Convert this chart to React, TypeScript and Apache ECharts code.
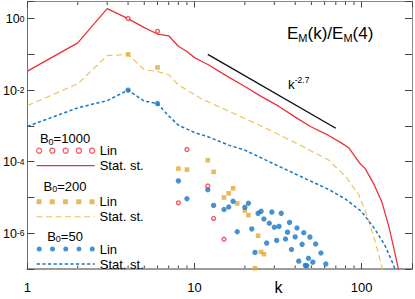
import React, { useEffect, useRef } from 'react';
import * as echarts from 'echarts';

const FONT = '"Liberation Sans", Arial, Helvetica, sans-serif';

// ---- data ----
const statK1000 = [1, 2, 3, 4, 5, 6, 7, 8, 9, 10, 11, 12, 16, 20, 25, 32, 40, 50, 63, 75, 84, 97, 105, 118, 132, 145, 155, 165, 170];
const statE1000 = [0.034, 0.21, 1.9, 1.0, 0.56, 0.37, 0.33, 0.168, 0.12, 0.081, 0.064, 0.052, 0.023, 0.0126, 0.0067, 0.0035, 0.00176, 9.3e-4, 5.5e-4, 3.4e-4, 2.4e-4, 9.2e-5, 6.4e-5, 2.4e-5, 7.5e-6, 1.6e-6, 4.2e-7, 1.1e-7, 5e-8];

const statK200 = [1, 2, 3, 4, 5, 6, 7, 8, 10, 11, 16, 20, 25, 32, 47, 63, 80, 96, 108, 119, 132, 137];
const statE200 = [0.0037, 0.015, 0.092, 0.1, 0.037, 0.033, 0.027, 0.014, 0.0075, 0.0057, 0.0026, 0.0016, 0.001, 5.7e-4, 2.3e-4, 1.14e-4, 3.9e-5, 1.2e-5, 3e-6, 7e-7, 1.2e-7, 5e-8];

const statK50 = [1, 2, 3, 4, 5, 6, 7, 8, 10, 12, 16, 20, 32, 47, 63, 80, 100, 120, 138, 155, 162];
const statE50 = [9.7e-4, 0.0032, 0.0051, 0.01, 0.0049, 0.0042, 0.0019, 0.00105, 6.5e-4, 5e-4, 2.9e-4, 2.1e-4, 7.4e-5, 3.2e-5, 1.7e-5, 9e-6, 4e-6, 1.3e-6, 4.5e-7, 1.3e-7, 7e-8];

const linK1000 = [4, 6, 8, 9, 12, 13, 15];
const linE1000 = [1.0, 0.44, 7.1e-6, 2.2e-4, 2.1e-5, 2.6e-6, 6.8e-7];

const linK200 = [4, 6, 8, 9, 12, 13, 15, 16, 17, 18, 20, 21, 23, 24, 25, 26];
const linE200 = [0.1, 0.043, 6.4e-5, 6.0e-5, 1.1e-4, 5.2e-5, 1.0e-5, 1.3e-5, 1.8e-5, 6.8e-6, 4.3e-6, 3.2e-6, 1.05e-7, 8.5e-7, 3.0e-7, 2.6e-7];

const linK50 = [4, 6, 8, 9, 12, 13, 15, 16, 17, 18, 20, 21, 22, 23, 24, 25, 26, 27, 28, 29, 30, 31, 32, 33, 35, 36, 37, 38, 40, 41, 42, 44, 45, 46, 47, 48, 49, 51, 53, 57, 61];
const linE50 = [0.01, 0.0042, 2.9e-5, 9.2e-6, 1.65e-5, 6.0e-6, 4.6e-6, 5.4e-6, 7.8e-6, 1.1e-6, 5.3e-6, 6.9e-6, 1.32e-6, 2.9e-7, 3.6e-6, 4.1e-6, 2.5e-6, 5.3e-7, 1.9e-6, 3.9e-6, 1.47e-6, 6.3e-7, 1.55e-6, 3.6e-6, 6.9e-7, 1.07e-6, 2.0e-6, 3.5e-7, 7.9e-7, 1.4e-6, 1.66e-7, 4.9e-7, 1.03e-6, 1.26e-7, 1.23e-7, 2.0e-7, 7.8e-7, 1.55e-7, 5.0e-7, 2.8e-7, 1.38e-7];

const guideK = [12, 70];
const guideE = [0.1, 8.6e-4];

const xLabelValues = [1, 10, 100];
const yLabelExps = [0, -2, -4, -6];
const xMinorTicks = [2, 3, 4, 5, 6, 7, 8, 9, 20, 30, 40, 50, 60, 70, 80, 90];
const X_MIN = 1;
const X_MAX = 200;
const Y_MIN = 1e-7;
const Y_MAX = 3;

const groups = ['B0=1000', 'B0=200', 'B0=50'];
const groupLabels = ['1000', '200', '50'];

// ---- styles ----
const RED = '#ec3039';
const ORANGE_MARK = '#e2a836';
const ORANGE_LINE = '#efbd57';
const BLUE = '#1877c4';

const zip = (k: number[], e: number[]) => k.map((v, i) => [v, e[i]]);

const iconCenters = [2.5, 15.75, 29, 42.25, 55.5];
const circlesIcon =
  'path://' +
  iconCenters
    .map((c) => `M${c - 2.5} 2.5A2.5 2.5 0 1 0 ${c + 2.5} 2.5A2.5 2.5 0 1 0 ${c - 2.5} 2.5Z`)
    .join(' ');
const squaresIcon =
  'path://' + iconCenters.map((c) => `M${c - 2.5} 0h5v5h-5Z`).join(' ');

const linName = (g: string) => `Lin (${g})`;
const statName = (g: string) => `Stat. st. (${g})`;

export default function App() {
  const ref = useRef<HTMLDivElement>(null);

  useEffect(() => {
    const chart = echarts.init(ref.current!, undefined, { renderer: 'svg' });

    const legendCommon = {
      orient: 'vertical' as const,
      left: 36,
      padding: 0,
      itemGap: 0,
      itemWidth: 58,
      itemHeight: 5,
      selectedMode: false,
      formatter: (name: string) => (name.startsWith('Lin') ? 'Lin' : 'Stat. st.'),
      textStyle: { fontFamily: FONT, fontSize: 13, color: '#000', lineHeight: 15 },
    };

    const axisTickStyle = { color: '#444', width: 1 };
    const hiddenSymbol = { opacity: 0 };

    const option: any = {
      animation: false,
      grid: { left: 26, right: 2.5, top: 1.5, bottom: 30, containLabel: false },
      xAxis: [
        {
          type: 'log',
          logBase: 10,
          min: X_MIN,
          max: X_MAX,
          position: 'bottom',
          axisLine: { show: true, onZero: false, lineStyle: { color: '#9c9c9c', width: 2 } },
          axisTick: { show: true, inside: true, length: 6, lineStyle: axisTickStyle },
          splitLine: { show: false },
          axisLabel: {
            margin: 12,
            fontFamily: FONT,
            fontSize: 13,
            color: '#000',
            formatter: (v: number) => {
              const r = Math.round(v);
              return xLabelValues.includes(r) && Math.abs(v - r) < 1e-6 ? String(r) : '';
            },
          },
        },
        {
          type: 'log',
          logBase: 10,
          min: X_MIN,
          max: X_MAX,
          position: 'top',
          axisLine: { show: true, onZero: false, lineStyle: { color: '#8a8a8a', width: 1 } },
          axisTick: { show: true, inside: true, length: 6, lineStyle: axisTickStyle },
          splitLine: { show: false },
          axisLabel: { show: false },
        },
      ],
      yAxis: [
        {
          type: 'log',
          logBase: 10,
          min: Y_MIN,
          max: Y_MAX,
          position: 'left',
          axisLine: { show: true, onZero: false, lineStyle: { color: '#6e6e6e', width: 1 } },
          axisTick: { show: true, inside: true, length: 7, lineStyle: axisTickStyle },
          splitLine: { show: false },
          axisLabel: {
            margin: 3,
            fontFamily: FONT,
            color: '#000',
            formatter: (v: number) => {
              const l = Math.log10(v);
              const e = Math.round(l);
              if (Math.abs(l - e) > 1e-6 || !yLabelExps.includes(e)) return '';
              return `{b|10}{s|${e}}`;
            },
            rich: {
              b: { fontFamily: FONT, fontSize: 12.5, lineHeight: 14, padding: [5, 0, 0, 0], verticalAlign: 'bottom', color: '#000' },
              s: { fontFamily: FONT, fontSize: 8.5, lineHeight: 10, padding: [2.5, 0, 0, 0], verticalAlign: 'top', color: '#000' },
            },
          },
        },
        {
          type: 'log',
          logBase: 10,
          min: Y_MIN,
          max: Y_MAX,
          position: 'right',
          axisLine: { show: true, onZero: false, lineStyle: { color: '#8a8a8a', width: 1 } },
          axisTick: { show: true, inside: true, length: 7, lineStyle: axisTickStyle },
          splitLine: { show: false },
          axisLabel: { show: false },
        },
      ],
      legend: [
        {
          ...legendCommon,
          top: 143.2,
          data: [
            { name: linName(groups[0]), icon: circlesIcon, itemStyle: { borderWidth: 1.2 } },
            { name: statName(groups[0]), itemStyle: hiddenSymbol },
          ],
          lineStyle: { width: 1.3 },
        },
        {
          ...legendCommon,
          top: 194.2,
          data: [
            { name: linName(groups[1]), icon: squaresIcon, itemStyle: { borderWidth: 0 } },
            { name: statName(groups[1]), itemStyle: hiddenSymbol },
          ],
          lineStyle: { width: 1.1 },
        },
        {
          ...legendCommon,
          top: 241.5,
          data: [
            { name: linName(groups[2]), icon: circlesIcon, itemStyle: { borderWidth: 0 } },
            { name: statName(groups[2]), itemStyle: hiddenSymbol },
          ],
          lineStyle: { width: 1.5 },
        },
      ],
      series: [
        {
          name: statName(groups[0]),
          type: 'line',
          data: zip(statK1000, statE1000),
          symbol: 'none',
          showSymbol: false,
          clip: true,
          z: 2,
          itemStyle: { color: RED },
          lineStyle: { color: RED, width: 1.3, type: 'solid' },
        },
        {
          name: statName(groups[1]),
          type: 'line',
          data: zip(statK200, statE200),
          symbol: 'none',
          showSymbol: false,
          clip: true,
          z: 2,
          itemStyle: { color: ORANGE_LINE },
          lineStyle: { color: ORANGE_LINE, width: 1.1, type: [6, 3.5] },
        },
        {
          name: statName(groups[2]),
          type: 'line',
          data: zip(statK50, statE50),
          symbol: 'none',
          showSymbol: false,
          clip: true,
          z: 2,
          itemStyle: { color: BLUE },
          lineStyle: { color: BLUE, width: 1.5, type: [3.2, 2.4] },
        },
        {
          name: 'k^-2.7',
          type: 'line',
          data: zip(guideK, guideE),
          symbol: 'none',
          showSymbol: false,
          z: 2,
          itemStyle: { color: '#111' },
          lineStyle: { color: '#111', width: 1.4 },
        },
        {
          name: linName(groups[0]),
          type: 'scatter',
          data: zip(linK1000, linE1000),
          symbol: 'circle',
          symbolSize: 3.8,
          clip: true,
          z: 4,
          itemStyle: { color: '#fff', borderColor: RED, borderWidth: 1.4 },
        },
        {
          name: linName(groups[1]),
          type: 'scatter',
          data: zip(linK200, linE200),
          symbol: 'rect',
          symbolSize: 4.6,
          clip: true,
          z: 3,
          itemStyle: { color: ORANGE_MARK },
        },
        {
          name: linName(groups[2]),
          type: 'scatter',
          data: zip(linK50, linE50),
          symbol: 'circle',
          symbolSize: 5.4,
          clip: true,
          z: 3,
          itemStyle: { color: BLUE },
        },
      ],
    };

    chart.setOption(option);

    const yTop = chart.convertToPixel({ yAxisIndex: 0 }, Y_MAX) as number;
    const yBottom = chart.convertToPixel({ yAxisIndex: 0 }, Y_MIN) as number;
    const minorLen = 3.5;
    const tickEls: any[] = [];
    xMinorTicks.forEach((v) => {
      const x = chart.convertToPixel({ xAxisIndex: 0 }, v) as number;
      tickEls.push({
        type: 'line',
        silent: true,
        shape: { x1: x, y1: yBottom, x2: x, y2: yBottom - minorLen },
        style: { stroke: '#444', lineWidth: 1 },
      });
      tickEls.push({
        type: 'line',
        silent: true,
        shape: { x1: x, y1: yTop, x2: x, y2: yTop + minorLen },
        style: { stroke: '#444', lineWidth: 1 },
      });
    });

    const headerTops = [131.3, 178.7, 228.7];
    const headerEls = groupLabels.map((g, i) => ({
      type: 'text',
      x: 65,
      y: headerTops[i],
      silent: true,
      style: {
        text: `{a|B}{s|0}{a|=${g}}`,
        align: 'center',
        verticalAlign: 'top',
        fill: '#000',
        rich: {
          a: { fontFamily: FONT, fontSize: 13, lineHeight: 15, fill: '#000' },
          s: { fontFamily: FONT, fontSize: 9, lineHeight: 10, verticalAlign: 'bottom', fill: '#000' },
        },
      },
    }));

    const textEls = [
      {
        type: 'text',
        x: 287,
        y: 23.3,
        silent: true,
        style: {
          text: '{a|E}{s|M}{a|(k)/E}{s|M}{a|(4)}',
          verticalAlign: 'top',
          fill: '#000',
          rich: {
            a: { fontFamily: FONT, fontSize: 17, lineHeight: 20, fill: '#000' },
            s: { fontFamily: FONT, fontSize: 11, lineHeight: 12, verticalAlign: 'bottom', fill: '#000' },
          },
        },
      },
      {
        type: 'text',
        x: 288,
        y: 75.6,
        silent: true,
        style: {
          text: '{k|k}{s|-2.7}',
          verticalAlign: 'top',
          fill: '#000',
          rich: {
            k: { fontFamily: FONT, fontSize: 13.5, lineHeight: 16, padding: [5, 0, 0, 0], verticalAlign: 'bottom', fill: '#000' },
            s: { fontFamily: FONT, fontSize: 8.5, lineHeight: 9, verticalAlign: 'top', fill: '#000' },
          },
        },
      },
      {
        type: 'text',
        x: 278.5,
        y: 279,
        silent: true,
        style: {
          text: 'k',
          align: 'center',
          verticalAlign: 'top',
          fontFamily: FONT,
          fontSize: 16,
          fill: '#000',
        },
      },
    ];

    chart.setOption({ graphic: { elements: [...tickEls, ...headerEls, ...textEls] } });

    return () => {
      chart.dispose();
    };
  }, []);

  return (
    <div
      ref={ref}
      style={{ position: 'fixed', left: 0, top: 0, width: 415, height: 299, background: '#fff' }}
    />
  );
}
